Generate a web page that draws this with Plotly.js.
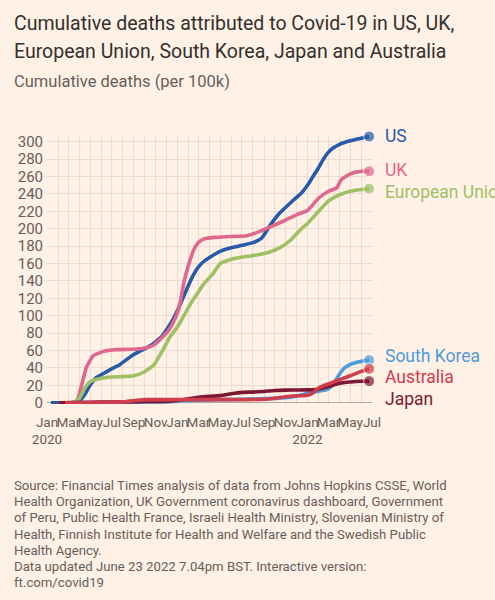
<!DOCTYPE html>
<html>
<head>
<meta charset="utf-8">
<script src="https://cdn.plot.ly/plotly-3.0.1.min.js"></script>
<style>
html,body{margin:0;padding:0;background:#fff1e5;}
#chart{width:495px;height:600px;}
</style>
</head>
<body>
<div id="chart"></div>
<script>
// ---- Data (cumulative deaths per 100k) ----
const usDates = ['2020-01-12','2020-03-01','2020-03-20','2020-04-01','2020-04-15','2020-05-01','2020-05-19','2020-06-01','2020-06-26','2020-07-24','2020-08-26','2020-09-22','2020-10-15','2020-11-01','2020-11-20','2020-12-05','2020-12-20','2021-01-01','2021-01-15','2021-02-01','2021-02-15','2021-03-01','2021-03-15','2021-04-01','2021-05-01','2021-06-01','2021-07-01','2021-08-01','2021-08-25','2021-09-20','2021-10-15','2021-11-15','2021-12-15','2022-01-01','2022-01-15','2022-02-01','2022-02-15','2022-03-01','2022-03-15','2022-04-01','2022-05-01','2022-06-01','2022-06-23'];
const usVals  = [0,0,0.2,2,9,20,29,32,38,44,54,60,65,70,77,86,96,106,119,135,147,156,162,167,174,178,181,184,189,205,218,230,241,250,259,270,280,288,293,297,301,304,306];

const ukDates = ['2020-03-01','2020-03-15','2020-03-25','2020-04-07','2020-04-21','2020-05-10','2020-06-07','2020-07-14','2020-09-01','2020-09-28','2020-10-26','2020-11-14','2020-12-05','2020-12-20','2021-01-05','2021-01-20','2021-02-01','2021-02-15','2021-03-01','2021-03-15','2021-04-15','2021-06-01','2021-07-15','2021-08-15','2021-09-19','2021-11-01','2021-12-01','2022-01-01','2022-02-01','2022-03-01','2022-03-24','2022-04-05','2022-05-01','2022-06-01','2022-06-23'];
const ukVals  = [0,0.1,2,20,41,54,59,61,61.5,62.5,66,73,82,92,108,140,158,175,184,188,190,191,192,196,202,210,216,221,235,243,247,256,263,266,266];

const euDates = ['2020-03-01','2020-03-15','2020-04-01','2020-04-15','2020-05-01','2020-06-01','2020-07-01','2020-08-01','2020-09-01','2020-09-28','2020-10-26','2020-11-23','2020-12-10','2021-01-01','2021-02-06','2021-02-22','2021-03-15','2021-04-12','2021-05-01','2021-06-01','2021-07-13','2021-08-15','2021-09-15','2021-10-15','2021-11-15','2021-12-15','2022-01-01','2022-02-01','2022-03-01','2022-04-01','2022-05-01','2022-06-01','2022-06-23'];
const euVals  = [0,0.5,5,16,24,28,29.5,30,31,35,43,62,75,87,113,123,136,149,160,165,168,170,173,178,187,200,206,220,232,239,243,245,246];

const krDates = ['2020-03-01','2020-04-01','2020-07-01','2020-12-01','2021-01-01','2021-03-01','2021-07-01','2021-10-01','2021-11-01','2021-12-01','2021-12-20','2022-01-01','2022-02-01','2022-02-20','2022-03-01','2022-03-15','2022-04-01','2022-04-15','2022-05-01','2022-05-15','2022-06-01','2022-06-23'];
const krVals  = [0,0.3,0.55,1.0,1.8,3.0,3.9,5,5.6,7.4,9.5,10.8,13.2,14.5,16,22,33,40,44,46,47.5,49];

const jpDates = ['2020-02-04','2020-04-01','2020-05-01','2020-06-01','2020-08-01','2020-09-01','2020-10-01','2020-11-01','2020-12-01','2021-01-01','2021-02-01','2021-03-01','2021-04-01','2021-05-01','2021-06-01','2021-07-01','2021-08-01','2021-09-01','2021-10-01','2021-11-01','2021-12-01','2022-01-01','2022-02-01','2022-03-01','2022-04-01','2022-05-01','2022-06-01','2022-06-23'];
const jpVals  = [0,0.05,0.3,0.7,0.8,1.1,1.3,1.4,1.7,2.7,4.6,6.2,7.3,8.1,10.3,11.9,12.2,12.9,14.0,14.5,14.6,14.7,15.5,18.5,22.5,23.8,24.6,24.8];

const auDates = ['2020-02-21','2020-04-01','2020-05-01','2020-07-01','2020-08-01','2020-08-20','2020-09-10','2020-10-01','2021-01-01','2021-07-01','2021-08-01','2021-09-01','2021-10-01','2021-11-01','2021-12-01','2022-01-01','2022-01-15','2022-02-01','2022-02-15','2022-03-01','2022-04-01','2022-05-01','2022-06-01','2022-06-23'];
const auVals  = [0,0.1,0.35,0.4,0.9,1.8,2.8,3.5,3.5,3.55,3.65,4.0,5.2,6.9,7.9,8.6,11,17,19.5,21.5,26.5,31,36,39];

const seriesNames = ['US','UK','European Union','South Korea','Japan','Australia'];
const tickVals = ['2020-01-01','2020-03-01','2020-05-01','2020-07-01','2020-09-01','2020-11-01','2021-01-01','2021-03-01','2021-05-01','2021-07-01','2021-09-01','2021-11-01','2022-01-01','2022-03-01','2022-05-01','2022-07-01'];
const tickText = ['Jan<br>2020','Mar','May','Jul','Sep','Nov','Jan','Mar','May','Jul','Sep','Nov','Jan<br>2022','Mar','May','Jul'];
const yTickVals = [0,20,40,60,80,100,120,140,160,180,200,220,240,260,280,300];

// ---- Styling / layout ----
const W = 495, H = 600;
const M = {l:47, r:123, t:135, b:196};
const plotW = W - M.l - M.r, plotH = H - M.t - M.b;
const px = x => (x - M.l) / plotW;
const py = y => (H - M.b - y) / plotH;

const colors = {
  'US':'#275aa8',
  'UK':'#e0688f',
  'European Union':'#9fc065',
  'South Korea':'#4f9bd9',
  'Japan':'#7b1833',
  'Australia':'#d03d4c'
};
const dataMap = {
  'US':[usDates,usVals],
  'UK':[ukDates,ukVals],
  'European Union':[euDates,euVals],
  'South Korea':[krDates,krVals],
  'Japan':[jpDates,jpVals],
  'Australia':[auDates,auVals]
};
// label vertical positions (data units) offset to avoid overlap
const labelY = {'US':307,'UK':268,'European Union':242.5,'South Korea':53.5,'Australia':29,'Japan':4};

const FONT = 'Roboto, "Noto Sans", sans-serif';
const GRAY = '#66605c';
const GRID = '#e9dbcf';

const traces = seriesNames.map(name => {
  const [d, v] = dataMap[name];
  return {
    type:'scatter', mode:'lines+markers', name:name,
    x:d, y:v,
    line:{color:colors[name], width:3.6, shape:'spline', smoothing:0.5},
    marker:{color:colors[name], size:v.map((_,i)=> i===v.length-1 ? 11 : 0)},
    hoverinfo:'skip', cliponaxis:false
  };
});

const annotations = [];
seriesNames.forEach(name => {
  const [d] = dataMap[name];
  annotations.push({
    x:d[d.length-1], y:labelY[name], xref:'x', yref:'y',
    text:name, showarrow:false, xanchor:'left', yanchor:'middle', xshift:14,
    font:{family:FONT, size:17.5, color:colors[name]}
  });
});

const titleLines = [
  ['Cumulative deaths attributed to Covid-19 in US, UK,', 24, 19.5, '#33302e'],
  ['European Union, South Korea, Japan and Australia', 51, 19.5, '#33302e'],
  ['Cumulative deaths (per 100k)', 81, 16.5, GRAY]
];
titleLines.forEach(([t,y,s,c]) => annotations.push({
  xref:'paper', yref:'paper', x:px(12), y:py(y), xanchor:'left', yanchor:'middle',
  text:t, showarrow:false, font:{family:FONT, size:s, color:c}
}));

const footer = [
  'Source: Financial Times analysis of data from Johns Hopkins CSSE, World',
  'Health Organization, UK Government coronavirus dashboard, Government',
  'of Peru, Public Health France, Israeli Health Ministry, Slovenian Ministry of',
  'Health, Finnish Institute for Health and Welfare and the Swedish Public',
  'Health Agency.',
  'Data updated June 23 2022 7.04pm BST. Interactive version:',
  'ft.com/covid19'
];
footer.forEach((t,i) => annotations.push({
  xref:'paper', yref:'paper', x:px(12), y:py(485.5 + i*16.2), xanchor:'left', yanchor:'middle',
  text:t, showarrow:false, font:{family:FONT, size:13.2, color:GRAY}
}));

const layout = {
  width:W, height:H, margin:M,
  paper_bgcolor:'#fff1e5', plot_bgcolor:'#fff1e5',
  showlegend:false,
  font:{family:FONT, color:GRAY},
  xaxis:{
    type:'date', range:['2020-01-01','2022-07-01'],
    tickmode:'array', tickvals:tickVals, ticktext:tickText, tickangle:0,
    showgrid:true, gridcolor:GRID, gridwidth:1,
    minor:{dtick:'M1', tick0:'2020-01-01', showgrid:true, gridcolor:GRID, gridwidth:1},
    zeroline:false, showline:false, ticks:'', ticklabelstandoff:8,
    tickfont:{family:FONT, size:13.5, color:GRAY}, fixedrange:true
  },
  yaxis:{
    range:[-1.5, 307.7], tickmode:'array', tickvals:yTickVals,
    showgrid:true, gridcolor:GRID, gridwidth:1,
    zeroline:true, zerolinecolor:'#b2a79f', zerolinewidth:1,
    showline:false, ticks:'', ticklabelstandoff:3,
    tickfont:{family:FONT, size:15, color:GRAY}, fixedrange:true
  },
  annotations:annotations
};

Plotly.newPlot('chart', traces, layout, {staticPlot:true, displayModeBar:false});
</script>
</body>
</html>
